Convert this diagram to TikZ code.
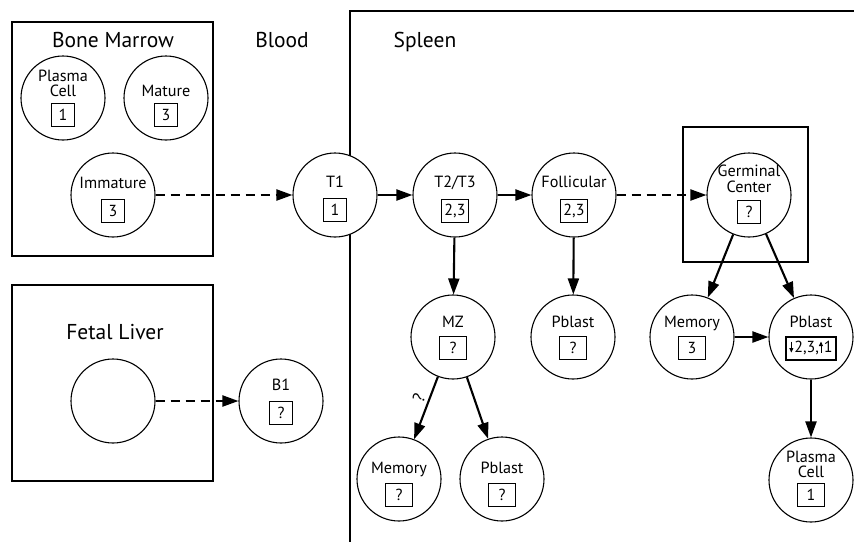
\documentclass[tikz,border=0pt]{standalone}
\usepackage{fontspec}
\setmainfont{PT Sans}
\usetikzlibrary{arrows.meta}
\newcommand{\dnarr}{\tikz[baseline=0pt,x=1pt,y=1pt]\draw[line width=0.9pt,solid,-{Triangle[length=4.5pt,width=4pt]}] (0,11) -- (0,0);\kern1pt}
\newcommand{\uparr}{\tikz[baseline=0pt,x=1pt,y=1pt]\draw[line width=0.9pt,solid,-{Triangle[length=4.5pt,width=4pt]}] (0,0) -- (0,11);\kern1pt}
\begin{document}
\begin{tikzpicture}[x=1pt,y=-1pt,
  cell/.style={circle,draw,line width=1.1pt,fill=white,minimum size=84pt,inner sep=0pt},
  nm/.style={font=\fontsize{16.2}{17}\selectfont,inner sep=0pt,anchor=base},
  numbox/.style={draw,line width=1.1pt,minimum width=23pt,minimum height=23pt,inner sep=1pt,font=\fontsize{16}{17}\selectfont},
  wbox/.style={numbox,minimum width=27pt},
  region/.style={draw,line width=2.4pt},
  ttl/.style={font=\fontsize{21.5}{23}\selectfont,inner sep=0pt,anchor=base},
  arr/.style={line width=2.1pt,-{Triangle[length=16pt,width=11pt]}},
  darr/.style={arr,dash pattern=on 9pt off 6pt},
]
\useasboundingbox (0,0) rectangle (854,542);

% regions
\draw[region] (12,22) rectangle (213,256);
\draw[region] (12,285) rectangle (213,481);
\draw[region] (854,11) -- (350,11) -- (350,542);
\draw[region] (683,127) rectangle (808,262);
\node[ttl] (tbm) at (113,47) {Bone Marrow};
\node[ttl] (tbl) at (282,47) {Blood};
\node[ttl] (tsp) at (425,47) {Spleen};
\node[ttl] (tfl) at (115,339) {Fetal Liver};

% cells
\node[cell] (bpc) at (63,98) {};
\node[cell] (bmat) at (166,98) {};
\node[cell] (imm) at (113,195) {};
\node[cell] (t1) at (335,195) {};
\node[cell] (t23) at (455,195) {};
\node[cell] (fol) at (574,195) {};
\node[cell] (gc) at (749,195) {};
\node[cell] (mz) at (453,337) {};
\node[cell] (pb1) at (573,337) {};
\node[cell] (mem2) at (692,337) {};
\node[cell] (pb3) at (811,337) {};
\node[cell] (mem1) at (399,479) {};
\node[cell] (pb2) at (502,479) {};
\node[cell] (spc) at (811,480) {};
\node[cell] (fl) at (113,401) {};
\node[cell] (b1) at (281,401) {};

% labels
\node[nm] (bpcA) at ([yshift=17pt]bpc.center) {Plasma};
\node[nm] (bpcB) at ([yshift=1.5pt]bpc.center) {Cell};
\node[numbox] (bpcN) at ([yshift=-17pt]bpc.center) {1};
\node[nm] (bmatA) at ([yshift=2pt]bmat.center) {Mature};
\node[numbox] (bmatN) at ([yshift=-17pt]bmat.center) {3};
\node[nm] (immA) at ([yshift=7pt]imm.center) {Immature};
\node[numbox] (immN) at ([yshift=-16pt]imm.center) {3};
\node[nm] (t1A) at ([yshift=8pt]t1.center) {T1};
\node[numbox] (t1N) at ([yshift=-15pt]t1.center) {1};
\node[nm] (t23A) at ([yshift=8pt]t23.center) {T2/T3};
\node[wbox] (t23N) at ([yshift=-16pt]t23.center) {2,3};
\node[nm] (folA) at ([yshift=8pt]fol.center) {Follicular};
\node[wbox] (folN) at ([yshift=-16pt]fol.center) {2,3};
\node[nm] (gcA) at ([yshift=18.5pt]gc.center) {Germinal};
\node[nm] (gcB) at ([yshift=3pt]gc.center) {Center};
\node[numbox] (gcN) at ([yshift=-17pt]gc.center) {?};
\node[nm] (mzA) at ([yshift=10pt]mz.center) {MZ};
\node[wbox] (mzN) at ([yshift=-11pt]mz.center) {?};
\node[nm] (pb1A) at ([yshift=10pt]pb1.center) {Pblast};
\node[wbox] (pb1N) at ([yshift=-11pt]pb1.center) {?};
\node[nm] (mem2A) at ([yshift=10pt]mem2.center) {Memory};
\node[wbox] (mem2N) at ([yshift=-11pt]mem2.center) {3};
\node[nm] (pb3A) at ([yshift=10pt]pb3.center) {Pblast};
\node[numbox,line width=2pt,inner sep=2pt,inner xsep=3pt] (pb3N) at ([yshift=-11pt]pb3.center) {\dnarr2,3,\uparr1};
\node[nm] (mem1A) at ([yshift=6pt]mem1.center) {Memory};
\node[wbox] (mem1N) at ([yshift=-16pt]mem1.center) {?};
\node[nm] (pb2A) at ([yshift=6pt]pb2.center) {Pblast};
\node[wbox] (pb2N) at ([yshift=-16pt]pb2.center) {?};
\node[nm] (spcA) at ([yshift=18pt]spc.center) {Plasma};
\node[nm] (spcB) at ([yshift=2.5pt]spc.center) {Cell};
\node[wbox] (spcN) at ([yshift=-15pt]spc.center) {1};
\node[nm] (b1A) at ([yshift=11pt]b1.center) {B1};
\node[numbox] (b1N) at ([yshift=-12pt]b1.center) {?};

% connectors
\draw[darr] (imm) -- (t1);
\draw[darr] (fl) -- (b1);
\draw[arr] (t1) -- (t23);
\draw[arr] (t23) -- (fol);
\draw[darr] (fol) -- (gc);
\draw[arr] (t23) -- (mz);
\draw[arr] (fol) -- (pb1);
\draw[arr] (gc) -- (mem2);
\draw[arr] (gc) -- (pb3);
\draw[arr] (mem2) -- (pb3);
\draw[arr] (pb3) -- (spc);
\draw[arr] (mz) -- node[pos=0.4,sloped,above=3pt,inner sep=0pt,font=\fontsize{17}{18}\selectfont] (q) {?} (mem1);
\draw[arr] (mz) -- (pb2);
\end{tikzpicture}
\end{document}
